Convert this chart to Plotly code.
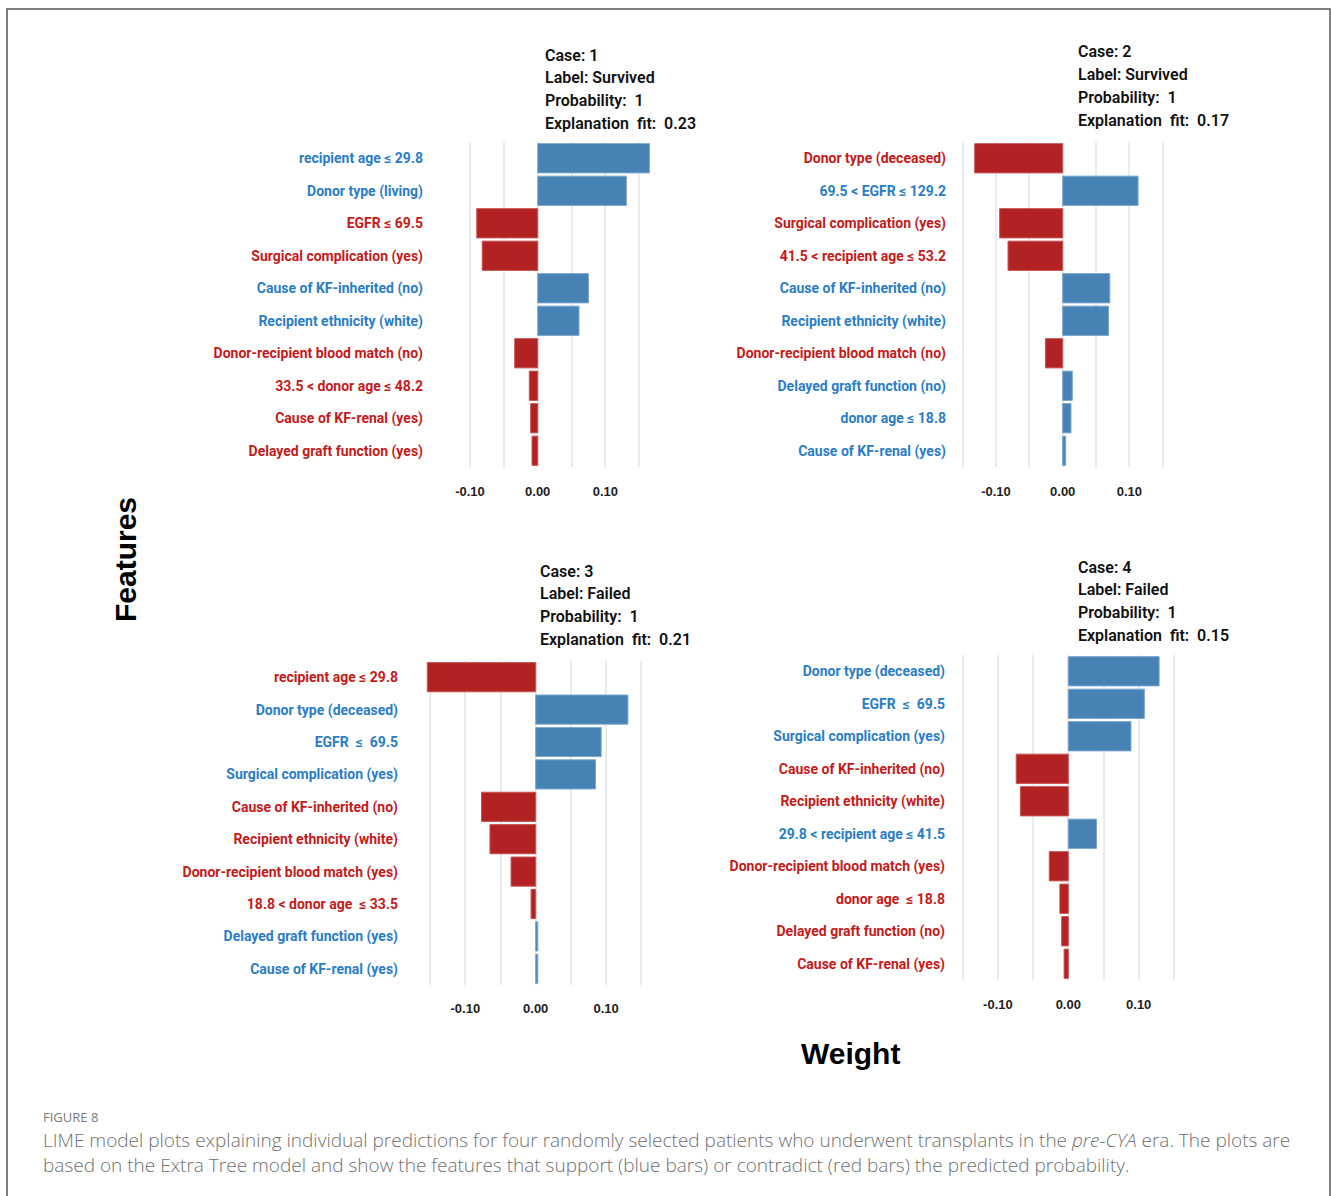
import plotly.graph_objects as go

W, H = 1331, 1196

# ---- data: four LIME explanations (feature, weight) ----
case1_features = ["recipient age ≤ 29.8", "Donor type (living)", "EGFR ≤ 69.5",
                  "Surgical complication (yes)", "Cause of KF-inherited (no)",
                  "Recipient ethnicity (white)", "Donor-recipient blood match (no)",
                  "33.5 < donor age ≤ 48.2", "Cause of KF-renal (yes)",
                  "Delayed graft function (yes)"]
case1_weights = [0.165, 0.131, -0.090, -0.082, 0.075, 0.061, -0.034, -0.0124, -0.0104, -0.0084]

case2_features = ["Donor type (deceased)", "69.5 < EGFR ≤ 129.2", "Surgical complication (yes)",
                  "41.5 < recipient age ≤ 53.2", "Cause of KF-inherited (no)",
                  "Recipient ethnicity (white)", "Donor-recipient blood match (no)",
                  "Delayed graft function (no)", "donor age ≤ 18.8", "Cause of KF-renal (yes)"]
case2_weights = [-0.132, 0.113, -0.0945, -0.082, 0.0706, 0.0687, -0.0259, 0.0144, 0.0124, 0.0045]

case3_features = ["recipient age ≤ 29.8", "Donor type (deceased)", "EGFR  ≤  69.5",
                  "Surgical complication (yes)", "Cause of KF-inherited (no)",
                  "Recipient ethnicity (white)", "Donor-recipient blood match (yes)",
                  "18.8 < donor age  ≤ 33.5", "Delayed graft function (yes)",
                  "Cause of KF-renal (yes)"]
case3_weights = [-0.154, 0.131, 0.093, 0.085, -0.077, -0.065, -0.035, -0.0066, 0.003, 0.003]

case4_features = ["Donor type (deceased)", "EGFR  ≤  69.5", "Surgical complication (yes)",
                  "Cause of KF-inherited (no)", "Recipient ethnicity (white)",
                  "29.8 < recipient age ≤ 41.5", "Donor-recipient blood match (yes)",
                  "donor age  ≤ 18.8", "Delayed graft function (no)", "Cause of KF-renal (yes)"]
case4_weights = [0.129, 0.108, 0.089, -0.074, -0.068, 0.040, -0.027, -0.012, -0.0094, -0.006]

case_ids = ["1", "2", "3", "4"]
case_labels = ["Survived", "Survived", "Failed", "Failed"]
case_probs = ["1", "1", "1", "1"]
case_fits = ["0.23", "0.17", "0.21", "0.15"]

grid_vals = [-0.15, -0.10, -0.05, 0.0, 0.05, 0.10, 0.15]
grid_text = ["", "-0.10", "", "0.00", "", "0.10", ""]

# ---- styling ----
BAR_BLUE, BAR_RED = "#4682B4", "#B22222"
TXT_BLUE, TXT_RED = "#2a7dc6", "#c41a1a"
LABEL_FONT = "Roboto, Liberation Sans, Arial, sans-serif"
ARIAL = "Liberation Sans, Arial, sans-serif"

# panel geometry in pixels: (x0, x1, zero_px, px_per_unit, y0, y1, label_gap, tick_gap)
panels = [
    (437, 667, 537.7, 677, 142, 467, 13, 15),
    (958, 1230, 1062.7, 667, 142, 467, 11, 15),
    (425, 660, 535.7, 704, 661, 985, 26, 14),
    (960, 1230, 1068.3, 704, 655, 980, 14, 15),
]
# left edge and first-line centre of each case header
header_pos = [(543, 55), (1076, 52), (538, 571), (1076, 567)]
HEADER_PITCH = 22.7

cases = [(case1_features, case1_weights), (case2_features, case2_weights),
         (case3_features, case3_weights), (case4_features, case4_weights)]

fig = go.Figure()
layout = {}
annotations = []

for i, ((feats, wts), geom) in enumerate(zip(cases, panels)):
    x0, x1, zpx, scale, y0, y1, lgap, tgap = geom
    n = i + 1
    xa = "x" if n == 1 else f"x{n}"
    ya = "y" if n == 1 else f"y{n}"
    idx = list(range(len(feats)))
    colors = [BAR_BLUE if w > 0 else BAR_RED for w in wts]
    lines = ["#7aa6cf" if w > 0 else "#c85454" for w in wts]
    fig.add_trace(go.Bar(
        x=wts, y=idx, orientation="h", width=0.9,
        marker=dict(color=colors, line=dict(color=lines, width=1)),
        xaxis=xa, yaxis=ya, showlegend=False, hoverinfo="x+y",
    ))
    ticktext = [
        f"<span style='color:{TXT_BLUE if w > 0 else TXT_RED}'>{f}</span>"
        for f, w in zip(feats, wts)
    ]
    layout["xaxis" if n == 1 else f"xaxis{n}"] = dict(
        domain=[x0 / W, x1 / W],
        range=[(x0 - zpx) / scale, (x1 - zpx) / scale],
        anchor=ya, tickvals=grid_vals, ticktext=grid_text,
        showgrid=True, gridcolor="#ebebeb", gridwidth=1.5,
        zeroline=False, showline=False, ticks="",
        ticklabelstandoff=tgap,
        tickfont=dict(family=ARIAL, size=13, color="#222222", weight="bold"),
    )
    layout["yaxis" if n == 1 else f"yaxis{n}"] = dict(
        domain=[1 - y1 / H, 1 - y0 / H],
        range=[len(feats) - 0.5, -0.5],
        anchor=xa, tickvals=idx, ticktext=ticktext,
        showgrid=False, zeroline=False, showline=False, ticks="",
        ticklabelstandoff=lgap,
        tickfont=dict(family=LABEL_FONT, size=14, weight="bold"),
    )
    hx, hy = header_pos[i]
    header_lines = [f"Case: {case_ids[i]}", f"Label: {case_labels[i]}",
                    f"Probability:  {case_probs[i]}", f"Explanation  fit:  {case_fits[i]}"]
    for k, txt in enumerate(header_lines):
        annotations.append(dict(
            xref="paper", yref="paper", x=hx / W, y=1 - (hy + HEADER_PITCH * k) / H,
            xanchor="left", yanchor="middle", align="left", showarrow=False,
            text=txt,
            font=dict(family=LABEL_FONT, size=16, color="#111111", weight=600),
        ))

# axis titles shared by all four panels
annotations.append(dict(
    xref="paper", yref="paper", x=125 / W, y=1 - 560 / H, textangle=-90,
    showarrow=False, text="Features", xanchor="center", yanchor="middle",
    font=dict(family=ARIAL, size=30, color="#000000", weight="bold"),
))
annotations.append(dict(
    xref="paper", yref="paper", x=850 / W, y=1 - 1053 / H,
    showarrow=False, text="Weight", xanchor="center", yanchor="middle",
    font=dict(family=ARIAL, size=30, color="#000000", weight="bold"),
))

# figure caption
caption_lines = [
    ("LIME model plots explaining individual predictions for four randomly selected patients "
     "who underwent transplants in the <i>pre-CYA</i> era. The plots are"),
    ("based on the Extra Tree model and show the features that support (blue bars) or "
     "contradict (red bars) the predicted probability."),
]
annotations.append(dict(
    xref="paper", yref="paper", x=41 / W, y=1 - 1117 / H,
    showarrow=False, text="FIGURE 8", xanchor="left", yanchor="middle",
    font=dict(family="Open Sans, sans-serif", size=13, color="#7a7a7a"),
))
for k, line in enumerate(caption_lines):
    annotations.append(dict(
        xref="paper", yref="paper", x=41 / W, y=1 - (1140 + 25 * k) / H,
        showarrow=False, xanchor="left", yanchor="middle", align="left",
        text=line,
        font=dict(family="Open Sans, sans-serif", size=19, color="#707070", weight=300),
    ))

fig.update_layout(
    width=W, height=H, margin=dict(l=0, r=0, t=0, b=0),
    paper_bgcolor="white", plot_bgcolor="white",
    annotations=annotations, bargap=0.1,
    shapes=[dict(type="rect", xref="paper", yref="paper",
                 x0=7 / W, x1=1330 / W, y0=-0.02, y1=1 - 9 / H,
                 line=dict(color="#555555", width=1.5))],
    **layout,
)

fig.write_html("out.html")
